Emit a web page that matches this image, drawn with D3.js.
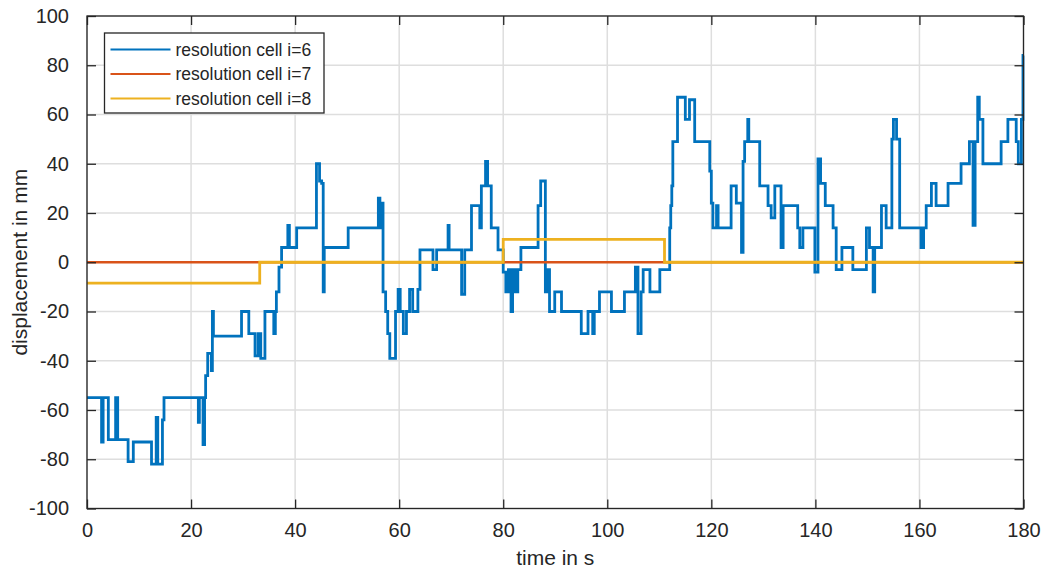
<!DOCTYPE html>
<html>
<head>
<meta charset="utf-8">
<script src="https://cdn.jsdelivr.net/npm/d3@7"></script>
<style>
  body { margin: 0; background: #fff; }
  svg text { font-family: "Liberation Sans", Arial, sans-serif; fill: #262626; }
</style>
</head>
<body>
<svg id="chart" width="1042" height="570"></svg>
<script>
// ######## data: [time in s, displacement in mm], step levels

var cell6 = [
  [0, -55], [2.8, -73], [3.1, -55], [4.1, -72], [5.5, -55], [5.9, -72], [7.9, -81], [8.9, -73],
  [12.4, -82], [13.3, -63], [13.6, -82], [14.5, -64], [14.8, -55], [21.4, -65], [21.6, -55],
  [22.3, -74], [22.6, -55], [22.8, -46], [23.2, -37], [23.9, -44], [24.1, -20], [24.3, -30],
  [29.7, -20], [31.1, -29], [32.3, -38], [32.9, -29], [33.4, -39], [34.2, -20], [35.9, -29],
  [36.2, -20], [36.4, -12], [36.9, -2], [37.4, 6], [38.6, 15], [38.9, 6], [40.3, 14],
  [44.1, 40], [44.7, 33], [45.1, 32], [45.4, -12], [45.6, 6], [50.2, 14],
  [56.0, 26], [56.3, 14], [56.6, 24], [56.9, -12], [57.4, -20], [57.8, -29], [58.2, -39],
  [59.3, -20], [59.8, -11], [60.2, -20], [60.8, -29], [61.4, -20], [62.0, -11], [62.6, -20],
  [63.6, -11], [64.0, 5], [66.5, -3], [67.2, 5], [69.4, 15], [69.6, 5], [72.0, -13], [72.6, 5],
  [73.9, 23], [75.5, 14], [75.8, 31], [76.6, 41], [77.0, 31], [77.7, 14], [79.0, 5], [80.0, -4],
  [80.5, -12], [81.0, -3], [81.5, -20], [81.8, -3], [82.3, -12], [82.8, -3], [83.4, 6],
  [86.7, 23], [87.2, 33], [88.1, -12], [88.5, -3], [88.9, -20], [89.9, -12], [91.2, -20],
  [95.0, -29], [96.3, -20], [97.2, -29], [97.5, -20], [98.5, -12], [100.8, -20], [103.3, -12],
  [105.4, -2], [105.9, -29], [106.5, -12], [106.9, -3], [108.2, -12], [110.1, -3],
  [112.0, 14], [112.2, 23], [112.4, 31], [112.6, 49], [113.5, 67], [115.0, 58], [115.8, 66],
  [116.8, 49], [119.7, 37], [120.0, 24], [120.3, 14], [121.0, 23], [121.3, 14], [123.8, 31],
  [124.8, 24], [125.8, 4], [126.1, 41], [126.4, 49], [127.0, 58], [127.2, 49], [129.3, 31],
  [130.9, 23], [131.5, 18], [132.2, 31], [133.4, 6], [133.8, 23],
  [136.6, 14], [137.0, 6], [137.6, 14], [139.9, -4], [140.5, 42], [141.0, 32], [141.9, 23],
  [143.4, 14], [144.0, -3], [145.1, 6], [147.2, -3], [149.8, 14], [150.4, 6], [151.1, -12],
  [151.4, 6], [152.7, 23], [153.6, 14], [154.7, 50], [155.0, 58], [155.6, 50], [156.2, 14],
  [160.3, 6], [160.8, 14], [161.3, 23], [162.3, 32], [163.2, 23], [165.5, 32], [168.0, 40],
  [169.6, 49], [170.3, 15], [170.7, 49], [171.2, 67], [171.5, 58], [172.2, 40], [175.7, 49],
  [177.0, 58], [178.6, 49], [179.0, 40], [179.6, 58], [179.9, 84], [180, 84]
];

var cell7 = [[0, 0], [180, 0]];

var cell8 = [[0, -8.5], [33.2, 0], [80.0, 9.3], [111.0, 0], [180, 0]];

var seriesNames = ["resolution cell i=6", "resolution cell i=7", "resolution cell i=8"];
var seriesColors = ["#0072BD", "#D95319", "#EDB120"];

var xTicks = [0, 20, 40, 60, 80, 100, 120, 140, 160, 180];
var yTicks = [-100, -80, -60, -40, -20, 0, 20, 40, 60, 80, 100];

// ######## layout
var margin = { left: 87, right: 18.5, top: 16, bottom: 61.5 };
var width = 1042 - margin.left - margin.right;
var height = 570 - margin.top - margin.bottom;

var svg = d3.select("#chart");
var g = svg.append("g").attr("transform", "translate(" + margin.left + "," + margin.top + ")");

var x = d3.scaleLinear().domain([0, 180]).range([0, width]);
var y = d3.scaleLinear().domain([-100, 100]).range([height, 0]);

// grid
g.append("g").selectAll("line").data(xTicks).join("line")
  .attr("x1", d => x(d)).attr("x2", d => x(d))
  .attr("y1", 0).attr("y2", height)
  .attr("stroke", "#dedede").attr("stroke-width", 1.5);
g.append("g").selectAll("line").data(yTicks).join("line")
  .attr("x1", 0).attr("x2", width)
  .attr("y1", d => y(d)).attr("y2", d => y(d))
  .attr("stroke", "#dedede").attr("stroke-width", 1.5);

// ######## series lines, later ones on top
var line = d3.line()
  .x(d => x(d[0]))
  .y(d => y(d[1]))
  .curve(d3.curveStepAfter);

var plotArea = g.append("g");
[cell6, cell7, cell8].forEach(function(data, i) {
  plotArea.append("path")
    .datum(data)
    .attr("fill", "none")
    .attr("stroke", seriesColors[i])
    .attr("stroke-width", i == 1 ? 2.4 : 2.8)
    .attr("stroke-linejoin", "miter")
    .attr("d", line);
});

// ######## axes: ticks inside, box on
var tickLen = 9;
var plain = d => String(d); // keep the ascii hyphen, like the original
var xAxisBottom = d3.axisBottom(x).tickValues(xTicks).tickSizeInner(-tickLen).tickSizeOuter(0).tickPadding(14).tickFormat(plain);
var yAxisLeft = d3.axisLeft(y).tickValues(yTicks).tickSizeInner(-tickLen).tickSizeOuter(0).tickPadding(18).tickFormat(plain);
var xAxisTop = d3.axisTop(x).tickValues(xTicks).tickSizeInner(-tickLen).tickSizeOuter(0).tickFormat("");
var yAxisRight = d3.axisRight(y).tickValues(yTicks).tickSizeInner(-tickLen).tickSizeOuter(0).tickFormat("");

function styleAxis(sel) {
  sel.select(".domain").remove();
  sel.selectAll(".tick line").attr("stroke", "#262626").attr("stroke-width", 1.3);
  sel.selectAll(".tick text")
    .attr("fill", "#262626")
    .style("font-family", "'Liberation Sans Narrow', 'Liberation Sans', sans-serif")
    .style("font-size", "20px");
}

g.append("g").attr("transform", "translate(0," + height + ")").call(xAxisBottom).call(styleAxis);
g.append("g").call(yAxisLeft).call(styleAxis);
g.append("g").call(xAxisTop).call(styleAxis);
g.append("g").attr("transform", "translate(" + width + ",0)").call(yAxisRight).call(styleAxis);

g.append("rect")
  .attr("x", 0).attr("y", 0).attr("width", width).attr("height", height)
  .attr("fill", "none").attr("stroke", "#262626").attr("stroke-width", 1.3);

// axis labels
g.append("text")
  .attr("x", width / 2).attr("y", height + 56)
  .attr("text-anchor", "middle")
  .style("font-size", "21px")
  .text("time in s");

g.append("text")
  .attr("transform", "translate(-60," + (height / 2) + ") rotate(-90)")
  .attr("text-anchor", "middle")
  .style("font-size", "21px")
  .text("displacement in mm");

// ######## legend
var legend = svg.append("g").attr("transform", "translate(104.5,33)");
legend.append("rect")
  .attr("width", 219.5).attr("height", 80)
  .attr("fill", "#fff").attr("stroke", "#262626").attr("stroke-width", 1.3);

seriesNames.forEach(function(name, i) {
  var ly = 16.5 + i * 24.5;
  legend.append("line")
    .attr("x1", 6).attr("x2", 66).attr("y1", ly).attr("y2", ly)
    .attr("stroke", seriesColors[i]).attr("stroke-width", 2.2);
  legend.append("text")
    .attr("x", 71).attr("y", ly)
    .attr("dy", "0.35em")
    .style("font-size", "17.5px")
    .text(name);
});
</script>
</body>
</html>
